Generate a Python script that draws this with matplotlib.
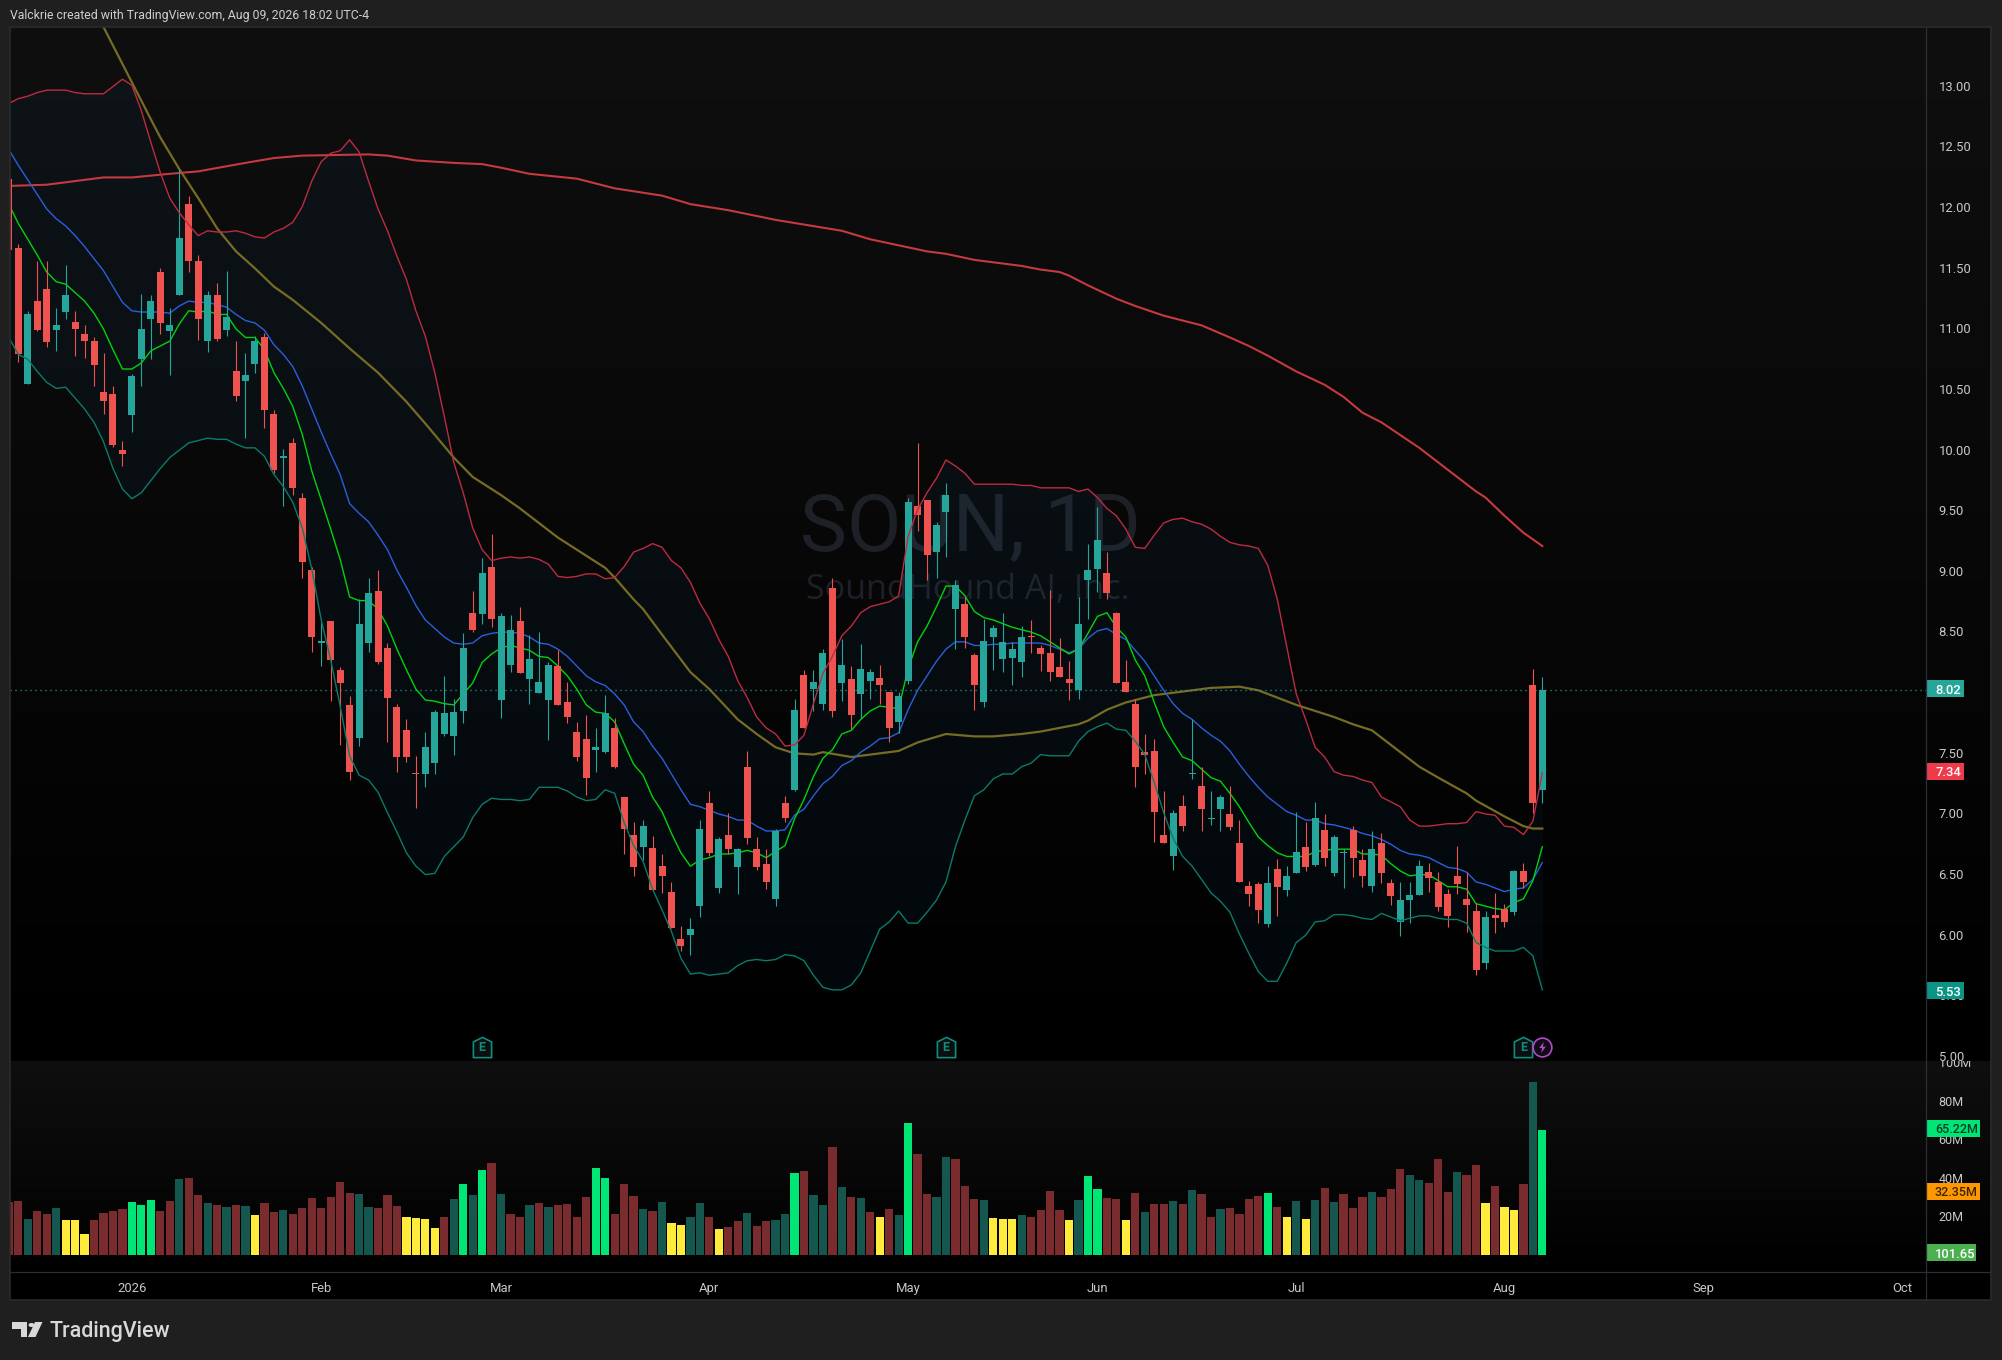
import numpy as np
import matplotlib
matplotlib.use("Agg")
import matplotlib.pyplot as plt
from matplotlib.colors import LinearSegmentedColormap
from matplotlib.path import Path
from matplotlib.patches import Rectangle, Polygon, Circle
from matplotlib.transforms import blended_transform_factory, ScaledTranslation

plt.rcParams['font.family'] = ['Roboto', 'DejaVu Sans']

opens = [12.24,11.67,10.55,11.23,11.33,10.99,11.14,11.06,10.96,10.90,
 10.48,10.46,10.00,10.29,10.75,11.08,11.47,10.98,11.28,12.03,
 11.56,10.90,11.28,10.99,10.65,10.57,10.71,10.93,10.30,9.94,
 10.06,9.61,9.01,8.41,8.59,8.19,7.90,7.63,8.41,8.84,
 8.37,7.88,7.69,7.34,7.33,7.42,7.66,7.64,7.85,8.66,
 8.65,9.04,7.94,8.23,8.59,8.11,8.00,7.94,8.22,7.92,
 7.68,7.62,7.53,7.51,7.71,7.14,6.83,6.73,6.72,6.57,
 6.36,5.97,6.00,6.24,7.09,6.39,6.83,6.56,7.39,6.71,
 6.59,6.30,7.09,7.20,8.15,8.03,7.91,8.86,8.08,8.11,
 7.99,8.10,8.12,8.01,7.76,8.10,9.54,9.59,9.16,9.49,
 8.69,8.73,8.31,7.92,8.46,8.28,8.29,8.25,8.47,8.37,
 8.33,8.21,8.11,8.02,8.93,9.02,8.99,8.66,8.09,7.91,
 7.51,7.52,6.83,6.65,7.07,7.33,7.23,6.96,7.04,7.00,
 6.76,6.41,6.42,6.09,6.55,6.37,6.51,6.73,6.58,6.87,
 6.51,6.68,6.87,6.62,6.41,6.76,6.43,6.11,6.29,6.33,
 6.52,6.44,6.34,6.49,6.30,6.20,5.77,6.17,6.22,6.19,
 6.53,8.06,7.20]
closes = [11.65,10.79,11.12,10.99,10.89,11.03,11.28,11.00,10.90,10.70,
 10.41,10.04,9.97,10.61,11.00,11.23,11.05,11.03,11.75,11.56,
 11.08,11.28,10.92,11.10,10.45,10.62,10.90,10.33,9.84,9.95,
 9.69,9.08,8.46,8.43,8.27,8.08,7.35,8.57,8.82,8.25,
 7.96,7.47,7.47,7.33,7.55,7.84,7.83,7.84,8.37,8.52,
 8.99,8.61,8.63,8.52,8.16,8.28,8.09,8.23,7.90,7.80,
 7.47,7.30,7.55,7.83,7.39,6.88,6.56,6.90,6.37,6.49,
 6.06,5.91,6.05,6.88,6.68,6.79,6.71,6.71,6.80,6.56,
 6.44,6.86,6.97,7.86,7.71,8.09,8.33,7.85,8.23,7.82,
 8.20,8.17,8.06,7.71,7.97,9.57,9.47,9.14,9.38,9.63,
 8.89,8.46,8.06,8.43,8.53,8.42,8.36,8.46,8.46,8.32,
 8.17,8.13,8.08,8.57,9.01,9.26,8.82,8.08,8.01,7.39,
 7.49,7.02,6.76,7.01,6.90,7.34,7.04,6.97,7.14,6.89,
 6.44,6.34,6.21,6.43,6.40,6.49,6.69,6.56,6.97,6.64,
 6.81,6.69,6.64,6.49,6.71,6.51,6.32,6.29,6.33,6.57,
 6.47,6.23,6.16,6.42,6.25,5.71,6.15,6.14,6.11,6.53,
 6.44,7.09,8.02]
highs = [12.24,11.70,11.15,11.56,11.56,11.17,11.53,11.15,11.03,10.93,
 10.80,10.53,10.08,10.63,11.29,11.28,11.50,11.17,12.32,12.10,
 11.61,11.31,11.38,11.48,10.90,10.80,10.94,10.97,10.33,10.01,
 10.10,9.65,9.04,8.59,8.59,8.21,7.97,8.77,8.95,9.01,
 8.41,7.91,7.78,7.48,7.68,7.86,8.14,7.95,8.49,8.84,
 9.11,9.31,8.66,8.64,8.71,8.48,8.50,8.25,8.35,8.09,
 7.76,7.82,7.71,7.98,7.79,7.14,6.93,6.95,6.82,6.67,
 6.44,6.08,6.14,6.95,7.19,6.81,7.01,6.72,7.52,6.81,
 6.71,6.88,7.15,7.95,8.19,8.19,8.36,8.95,8.44,8.22,
 8.40,8.20,8.23,8.01,8.01,9.61,10.06,9.59,9.41,9.73,
 8.93,8.79,8.33,8.61,8.56,8.66,8.42,8.55,8.60,8.39,
 8.85,8.45,8.26,8.79,9.23,9.53,9.16,8.67,8.27,7.95,
 7.66,7.62,7.19,7.03,7.16,7.78,7.39,7.19,7.16,7.23,
 6.95,6.45,6.44,6.57,6.63,6.57,7.02,6.93,7.10,7.00,
 6.83,6.71,6.90,6.71,6.86,6.84,6.46,6.44,6.44,6.62,
 6.60,6.52,6.38,6.74,6.52,6.27,6.20,6.35,6.26,6.54,
 6.60,8.20,8.13]
lows = [11.65,10.73,10.55,10.98,10.85,10.82,11.08,10.78,10.76,10.53,
 10.30,10.03,9.87,10.15,10.53,10.75,10.96,10.62,11.28,11.47,
 10.91,10.81,10.90,10.94,10.41,10.10,10.64,10.18,9.81,9.54,
 9.63,8.95,8.34,8.22,7.93,7.57,7.28,7.56,8.34,8.24,
 7.59,7.35,7.43,7.05,7.22,7.33,7.64,7.49,7.75,8.50,
 8.57,8.54,7.79,8.17,8.16,7.91,8.00,7.61,7.90,7.75,
 7.44,7.16,7.35,7.50,7.38,6.67,6.49,6.62,6.37,6.35,
 6.06,5.87,5.84,6.15,6.65,6.35,6.67,6.34,6.75,6.54,
 6.38,6.24,6.93,7.19,7.71,7.85,7.86,7.80,7.93,7.70,
 7.79,7.95,7.91,7.59,7.67,8.07,9.33,8.93,8.95,9.12,
 8.36,8.37,7.86,7.88,8.19,8.17,8.06,8.13,8.33,8.18,
 8.10,8.13,7.94,7.95,8.61,8.83,8.77,8.08,8.01,7.22,
 7.33,6.77,6.76,6.54,6.86,7.29,6.86,6.91,6.86,6.87,
 6.44,6.24,6.10,6.07,6.16,6.32,6.51,6.53,6.57,6.57,
 6.49,6.39,6.48,6.40,6.36,6.43,6.25,5.99,6.10,6.33,
 6.36,6.20,6.07,6.34,6.03,5.67,5.72,6.02,6.07,6.17,
 6.39,7.01,7.09]

ema_fast = [12.03,11.87,11.74,11.61,11.47,11.39,11.37,11.30,11.23,11.13,
 11.00,10.83,10.67,10.67,10.72,10.82,10.86,10.90,11.04,11.15,
 11.14,11.15,11.12,11.12,11.00,10.93,10.93,10.83,10.64,10.51,
 10.36,10.13,9.83,9.59,9.35,9.10,8.79,8.76,8.76,8.69,
 8.55,8.36,8.19,8.03,7.94,7.93,7.91,7.90,7.99,8.08,
 8.25,8.32,8.37,8.39,8.37,8.35,8.30,8.29,8.22,8.14,
 8.03,7.90,7.84,7.83,7.76,7.58,7.41,7.32,7.14,7.02,
 6.84,6.68,6.57,6.62,6.64,6.67,6.67,6.68,6.70,6.68,
 6.64,6.69,6.74,6.96,7.12,7.31,7.46,7.53,7.66,7.69,
 7.78,7.85,7.89,7.88,7.87,8.20,8.42,8.55,8.71,8.88,
 8.88,8.80,8.67,8.62,8.60,8.57,8.54,8.52,8.50,8.47,
 8.42,8.37,8.32,8.36,8.49,8.63,8.66,8.54,8.46,8.27,
 8.14,7.92,7.72,7.59,7.47,7.44,7.37,7.30,7.27,7.17,
 7.06,6.93,6.81,6.74,6.68,6.65,6.65,6.65,6.69,6.70,
 6.71,6.71,6.71,6.67,6.67,6.66,6.59,6.53,6.49,6.50,
 6.50,6.45,6.40,6.40,6.38,6.26,6.24,6.22,6.21,6.27,
 6.30,6.45,6.73]
bb_basis = [12.48,12.35,12.23,12.11,11.99,11.91,11.85,11.77,11.68,11.58,
 11.48,11.35,11.22,11.15,11.14,11.14,11.14,11.13,11.19,11.23,
 11.22,11.22,11.20,11.18,11.12,11.07,11.05,10.99,10.87,10.79,
 10.69,10.53,10.34,10.15,9.97,9.80,9.56,9.48,9.41,9.30,
 9.18,9.01,8.87,8.72,8.60,8.53,8.46,8.41,8.40,8.41,
 8.47,8.49,8.50,8.50,8.49,8.46,8.41,8.40,8.36,8.30,
 8.22,8.14,8.09,8.06,7.99,7.90,7.76,7.68,7.56,7.46,
 7.33,7.20,7.08,7.06,7.03,7.00,6.98,6.95,6.95,6.90,
 6.86,6.86,6.87,6.99,7.04,7.15,7.25,7.31,7.40,7.44,
 7.51,7.56,7.62,7.63,7.67,7.86,8.02,8.14,8.26,8.36,
 8.42,8.42,8.39,8.39,8.40,8.40,8.41,8.41,8.41,8.41,
 8.39,8.36,8.33,8.36,8.45,8.51,8.53,8.48,8.44,8.35,
 8.26,8.14,8.02,7.91,7.83,7.78,7.71,7.65,7.60,7.52,
 7.41,7.31,7.22,7.14,7.08,7.02,6.99,6.95,6.95,6.92,
 6.91,6.89,6.87,6.84,6.82,6.79,6.75,6.70,6.67,6.66,
 6.64,6.60,6.56,6.55,6.52,6.44,6.42,6.39,6.36,6.38,
 6.39,6.46,6.60]
bb_upper = [12.86,12.90,12.92,12.95,12.97,12.97,12.97,12.95,12.94,12.94,
 12.94,13.00,13.06,13.01,12.80,12.54,12.29,12.08,11.96,11.86,
 11.77,11.81,11.80,11.80,11.81,11.79,11.76,11.75,11.80,11.83,
 11.88,12.01,12.22,12.38,12.45,12.47,12.56,12.46,12.22,11.99,
 11.81,11.60,11.41,11.15,10.94,10.64,10.28,9.90,9.65,9.36,
 9.18,9.09,9.11,9.12,9.11,9.12,9.10,9.06,8.96,8.95,
 8.96,8.98,8.98,8.94,8.95,9.04,9.16,9.19,9.23,9.20,
 9.09,9.03,8.91,8.74,8.61,8.44,8.30,8.10,7.96,7.80,
 7.71,7.66,7.56,7.57,7.65,7.91,8.16,8.30,8.47,8.55,
 8.66,8.71,8.73,8.75,8.80,9.29,9.51,9.65,9.77,9.92,
 9.87,9.81,9.72,9.72,9.72,9.72,9.72,9.71,9.71,9.69,
 9.69,9.69,9.69,9.66,9.68,9.61,9.52,9.46,9.35,9.20,
 9.19,9.30,9.40,9.43,9.44,9.41,9.39,9.35,9.29,9.24,
 9.22,9.21,9.19,9.05,8.77,8.38,7.99,7.78,7.55,7.47,
 7.35,7.32,7.31,7.28,7.26,7.14,7.10,7.06,6.95,6.90,
 6.90,6.91,6.92,6.92,6.93,7.02,7.00,6.99,6.90,6.89,
 6.83,6.94,7.34]
bb_lower = [10.93,10.79,10.75,10.65,10.56,10.51,10.52,10.43,10.34,10.23,
 10.07,9.85,9.68,9.60,9.65,9.75,9.85,9.94,10.00,10.06,
 10.08,10.10,10.09,10.09,10.05,10.02,10.02,9.95,9.80,9.70,
 9.57,9.36,9.02,8.60,8.27,7.89,7.48,7.32,7.28,7.18,
 7.01,6.85,6.68,6.57,6.50,6.51,6.65,6.73,6.81,6.97,
 7.08,7.13,7.12,7.12,7.11,7.12,7.22,7.22,7.22,7.19,
 7.14,7.11,7.12,7.20,7.17,6.93,6.74,6.61,6.38,6.21,
 6.03,5.81,5.68,5.69,5.67,5.68,5.69,5.75,5.79,5.80,
 5.79,5.80,5.84,5.83,5.79,5.67,5.57,5.55,5.55,5.59,
 5.69,5.87,6.05,6.11,6.20,6.10,6.10,6.19,6.29,6.44,
 6.73,6.95,7.15,7.20,7.29,7.33,7.33,7.39,7.42,7.49,
 7.48,7.48,7.48,7.60,7.68,7.72,7.75,7.70,7.69,7.60,
 7.49,7.26,7.01,6.80,6.65,6.57,6.46,6.35,6.28,6.19,
 6.01,5.85,5.70,5.62,5.62,5.77,5.94,6.00,6.11,6.12,
 6.17,6.17,6.16,6.14,6.13,6.18,6.15,6.12,6.14,6.16,
 6.16,6.14,6.13,6.13,6.10,5.94,5.90,5.87,5.87,5.87,
 5.90,5.83,5.55]

sma50_bars = [10,15,16,17,18,20,22,24,26,28,30,33,36,39,42,44,47,49,52,54,56,58,60,63,64,66,67,69,72,74,77,79,81,83,85,86,89,92,94,96,99,102,104,107,109,111,113,114,116,118,121,124,127,130,132,136,138,140,142,144,146,149,151,154,155,158,160,161,162]
sma50_vals = [13.49,12.73,12.58,12.45,12.32,12.08,11.83,11.64,11.50,11.35,11.24,11.05,10.84,10.64,10.40,10.22,9.94,9.78,9.63,9.52,9.40,9.28,9.18,9.03,8.95,8.77,8.69,8.48,8.17,8.03,7.78,7.66,7.55,7.50,7.49,7.51,7.47,7.50,7.52,7.59,7.66,7.64,7.64,7.66,7.68,7.71,7.74,7.77,7.86,7.92,7.98,8.01,8.04,8.05,8.02,7.90,7.85,7.80,7.74,7.69,7.57,7.39,7.30,7.17,7.11,6.98,6.90,6.88,6.88]
sma200_bars = [0,4,6,10,13,17,20,25,28,31,38,40,43,47,50,52,55,60,62,64,69,72,76,81,88,91,94,97,99,102,104,107,109,111,112,114,117,119,122,126,129,131,133,136,139,141,143,145,149,151,155,156,158,160,162]
sma200_vals = [12.18,12.19,12.21,12.25,12.25,12.28,12.30,12.37,12.41,12.43,12.44,12.43,12.39,12.37,12.36,12.33,12.28,12.24,12.20,12.16,12.10,12.03,11.98,11.90,11.81,11.74,11.69,11.64,11.62,11.57,11.55,11.52,11.49,11.47,11.44,11.36,11.25,11.19,11.11,11.03,10.93,10.86,10.78,10.65,10.54,10.44,10.31,10.23,10.02,9.90,9.66,9.61,9.46,9.32,9.21]

volumes = [27.8,28.1,18.7,22.9,21.4,24.5,18.2,18.2,10.9,18.2,
 21.9,22.9,24.0,27.6,26.0,28.6,22.9,28.1,39.6,40.1,
 31.2,27.1,26.0,25.0,26.0,25.5,20.8,27.1,22.4,23.4,
 21.4,24.5,29.7,24.5,30.2,38.0,32.3,31.8,25.0,24.5,
 31.2,25.5,19.8,19.3,18.7,14.1,19.8,29.2,37.0,31.2,
 44.3,47.9,31.8,21.4,19.8,26.0,27.1,25.0,26.0,26.6,
 19.8,30.2,45.3,40.1,21.4,37.0,30.7,24.0,22.9,27.6,
 16.7,15.6,19.8,27.1,19.8,13.5,14.6,17.7,21.9,15.1,
 17.7,18.2,21.4,42.7,43.7,31.2,26.0,56.2,35.4,30.2,
 29.7,22.4,19.8,24.0,20.8,68.7,52.6,31.8,30.2,51.0,
 50.0,35.9,29.2,28.6,19.3,18.7,18.7,20.8,19.8,23.4,
 33.3,23.4,18.2,28.6,41.1,34.4,29.7,29.2,18.2,32.3,
 22.4,26.6,26.6,28.1,26.6,33.9,31.8,19.8,24.0,24.5,
 21.4,29.2,30.7,32.3,25.0,19.8,28.1,18.7,28.6,34.9,
 27.6,31.8,24.5,30.2,32.8,30.2,34.4,44.8,41.7,39.1,
 37.5,50.0,32.8,43.2,41.7,46.9,27.1,35.9,25.0,23.4,
 37.0,90.1,65.22]
vol_state = list("rrtrrtyyyr" "rrrgggrrtr" "rtrtrtyrrt" "rrrrrrrttr" "rryyyyrtgt"
                 "grtrrtrtrr" "rrggrrrtrt" "yyttryrrtr" "rttgrttrtr" "tryrtgrrtt"
                 "rrrtyyytrr" "rrytggrryr" "trrtrtrrtr" "rrrgrytytr" "trrrtrrrtt"
                 "rrrtrryryy" "rtg")

xtick_bars = [13, 33, 52, 74, 95, 115, 136, 158, 179, 200]
xtick_labels = ['2026', 'Feb', 'Mar', 'Apr', 'May', 'Jun', 'Jul', 'Aug', 'Sep', 'Oct']
price_ticks = [5.0, 5.5, 6.0, 6.5, 7.0, 7.5, 8.0, 8.5, 9.0, 9.5, 10.0, 10.5, 11.0, 11.5, 12.0, 12.5, 13.0]
vol_ticks = [20, 40, 60, 80, 100]
earnings_bars = [50, 99, 160]
dividend_bar = [162]
last_price = 8.02
bb_upper_label = 7.34
bb_lower_label = 5.53
last_volume = 65.22
avg_volume = 32.35
ratio_level = 0.3

W, H = 2002, 1360
BG = '#1f1f1f'
fig = plt.figure(figsize=(W / 100, H / 100), dpi=100, facecolor=BG)

def panel(l, t, r, b, z=1):
    a = fig.add_axes([l / W, 1 - b / H, (r - l) / W, (b - t) / H], zorder=z)
    for s in a.spines.values():
        s.set_visible(False)
    a.set_xticks([]); a.set_yticks([])
    return a

L, R, RA = 10, 1926, 1991
TOP, MID, BOT, TB = 27, 1061, 1272, 1300
X0, DX = 8.85, 9.466
xlim = ((L - X0) / DX, (R - X0) / DX)
PX = 121.25
Y13 = 86.5

grad_cm = LinearSegmentedColormap.from_list('g', ['#0f0f0f', '#000000'])
grad = np.linspace(0, 1, 256).reshape(-1, 1)

def paint(a):
    a.imshow(grad, cmap=grad_cm, aspect='auto', extent=[0, 1, 0, 1], transform=a.transAxes, zorder=0, vmin=0, vmax=1)

ax = panel(L, TOP, R, MID, 2)
axv = panel(L, MID, R, BOT, 2)
axr = panel(R, TOP, RA, MID, -1)
axvr = panel(R, MID, RA, BOT, -1)
axt = panel(L, BOT, RA, TB, 0)
axt.set_facecolor('#000000')
for a in (ax, axv, axr, axvr):
    paint(a)
axr.set_xlim(0, 1); axr.set_ylim(0, 1); axvr.set_xlim(0, 1); axvr.set_ylim(0, 1)

n = len(closes)
idx = np.arange(n)
o, h, l_, c = map(np.array, (opens, highs, lows, closes))
UP, DOWN = '#26a69a', '#ef5350'
cols = [UP if c[i] >= o[i] else DOWN for i in idx]

ax.text(800 / W, 1 - 528 / H, 'SOUN, 1D', transform=fig.transFigure, family='Roboto', fontsize=57,
        color='#1d2026', ha='left', va='center', zorder=0.5)
ax.text(806 / W, 1 - 590 / H, 'SoundHound AI, Inc.', transform=fig.transFigure, family='Open Sans', fontsize=24.6,
        color='#1d2026', ha='left', va='center', zorder=0.5)

ax.fill_between(idx, bb_lower, bb_upper, color='#2196f3', alpha=0.045, lw=0, zorder=1)
ax.plot(sma50_bars, sma50_vals, color='#766c24', lw=1.6, zorder=1.5)
ax.plot(sma200_bars, sma200_vals, color='#c53a40', lw=1.5, zorder=1.5)
ax.plot(idx, bb_basis, color='#2a5fdc', lw=1.0, zorder=1.6)
ax.plot(idx, ema_fast, color='#00d30c', lw=1.0, zorder=1.7)
ax.axhline(last_price, color=UP, lw=1.0, ls=(0, (0.8, 2.8)), zorder=1.8)
ax.vlines(idx, l_, h, colors=cols, lw=0.8, zorder=2)
ax.bar(idx, np.abs(c - o), bottom=np.minimum(o, c), width=0.74, color=cols, lw=0, zorder=2.1)
ax.plot(idx, bb_upper, color='#bd2b41', lw=1.0, zorder=2.3)
ax.plot(idx, bb_lower, color='#0c7a6b', lw=1.0, zorder=2.3)

house = Path([(-0.9, -1), (0.9, -1), (0.9, 0.55), (0, 1), (-0.9, 0.55), (-0.9, -1)], closed=True)
marker_y = 13 - (1047 - Y13) / PX
ax.plot(earnings_bars, [marker_y] * len(earnings_bars), ls='', marker=house, ms=14.6, mfc='#0b0f10',
        mec='#0f8c7c', mew=1.2, zorder=3)
for b in earnings_bars:
    ax.text(b, marker_y - 0.002, 'E', color='#0f8c7c', fontsize=9, fontweight='bold', ha='center', va='center', zorder=3.1)
ax.plot(dividend_bar, [marker_y], ls='', marker='o', ms=13.5, mfc='#120a16', mec='#b44ac8', mew=1.2, zorder=3)
bolt = Path([(0.25, 1), (-0.6, -0.1), (-0.05, -0.1), (-0.25, -1), (0.6, 0.15), (0.05, 0.15), (0.25, 1)], closed=True)
ax.plot(dividend_bar, [marker_y], ls='', marker=bolt, ms=8, mfc='#b44ac8', mec='none', zorder=3.1)

ax.set_xlim(*xlim)
ax.set_ylim(13 - (MID - Y13) / PX, 13 - (TOP - Y13) / PX)
ax.yaxis.tick_right()
ax.set_yticks(price_ticks)
ax.set_yticklabels([f'{p:.2f}' for p in price_ticks])
ax.tick_params(axis='y', length=0, pad=9, labelsize=9.4, labelcolor='#c8c8c8')
up1 = ScaledTranslation(0, 0.5 / 72, fig.dpi_scale_trans)
for lab in ax.get_yticklabels():
    lab.set_clip_on(True); lab.set_clip_box(axr.bbox)
    lab.set_transform(lab.get_transform() + up1)

vol_colors = {'r': '#7a2b2d', 't': '#15574f', 'y': '#ffeb3b', 'g': '#00e676'}
axv.bar(idx, volumes, width=0.87, color=[vol_colors[s] for s in vol_state], lw=0, zorder=2)
axv.set_xlim(*xlim)
VS = 20 / 38.4
axv.set_ylim(-(BOT - 1255) * VS, (1255 - MID) * VS)
axv.yaxis.tick_right()
axv.set_yticks(vol_ticks)
axv.set_yticklabels([f'{v}M' for v in vol_ticks])
axv.tick_params(axis='y', length=0, pad=9, labelsize=9.0, labelcolor='#c8c8c8')
for lab in axv.get_yticklabels():
    lab.set_clip_on(True); lab.set_clip_box(axvr.bbox)
    lab.set_transform(lab.get_transform() + up1)

axt.set_xlim(xlim[0], (RA - X0) / DX)
axt.set_ylim(0, 1)
axt.xaxis.tick_top()
axt.set_xticks(xtick_bars)
axt.set_xticklabels(xtick_labels)
axt.tick_params(axis='x', length=0, pad=-16.4, labelsize=9.4, labelcolor='#c8c8c8')

def badge(a, value, text, face, tc, w, fs=9.4):
    tr = blended_transform_factory(fig.transFigure, a.transData)
    inv = a.transData.inverted()
    per_px = abs(inv.transform((0, 1))[1] - inv.transform((0, 0))[1])
    sc = 17 * per_px
    mid = value + 1.5 * per_px
    a.add_patch(Rectangle((1927 / W, mid - sc / 2), w / W, sc, transform=tr, fc=face, ec='none', clip_on=False, zorder=6))
    a.text(1935 / W, mid, text, transform=tr, color=tc, fontsize=fs, fontweight='medium', ha='left', va='center_baseline',
           clip_on=False, zorder=7)

badge(ax, last_price, f'{last_price:.2f}', '#26a69a', '#ffffff', 37)
badge(ax, bb_upper_label, f'{bb_upper_label:.2f}', '#ef3a4a', '#ffffff', 37)
badge(ax, bb_lower_label, f'{bb_lower_label:.2f}', '#0b9483', '#ffffff', 37)
badge(axv, last_volume, f'{last_volume:.2f}M', '#00e676', '#0c3b24', 53, 9.0)
badge(axv, avg_volume, f'{avg_volume:.2f}M', '#ff9800', '#3a2300', 53, 9.0)
badge(axv, ratio_level, '101.65', '#4caf50', '#ffffff', 49)

line_c = '#2a2e39'
fig.add_artist(plt.Line2D([R / W, R / W], [1 - TB / H, 1 - TOP / H], color=line_c, lw=0.9, zorder=10))
fig.add_artist(plt.Line2D([L / W, RA / W], [1 - BOT / H, 1 - BOT / H], color=line_c, lw=0.9, zorder=10))
fig.add_artist(Rectangle((L / W, 1 - TB / H), (RA - L) / W, (TB - TOP) / H, transform=fig.transFigure, fc='none', ec='#2b2b2b', lw=1.2, zorder=10))

fig.text(10 / W, 1 - 15 / H, 'Valckrie created with TradingView.com, Aug 09, 2026 18:02 UTC-4', color='#cfcfcf',
         fontsize=8.8, ha='left', va='center')
fig.text(50 / W, 1 - 1331 / H, 'TradingView', color='#d8d8d8', fontsize=15.5, fontweight='medium', ha='left', va='center')

def logo_poly(pts):
    fig.add_artist(Polygon([(x / W, 1 - y / H) for x, y in pts], transform=fig.transFigure, fc='#d8d8d8', ec='none'))

logo_poly([(12, 1322), (27, 1322), (27, 1337), (20.5, 1337), (20.5, 1328.5), (12, 1328.5)])
logo_poly([(35, 1322), (42.5, 1322), (35.5, 1337), (28, 1337)])
fig.add_artist(Circle((31.5 / W, 1 - 1325 / H), 3.0 / W, transform=fig.transFigure, fc='#d8d8d8', ec='none'))

fig.savefig('out.png', dpi=100, facecolor=fig.get_facecolor())
